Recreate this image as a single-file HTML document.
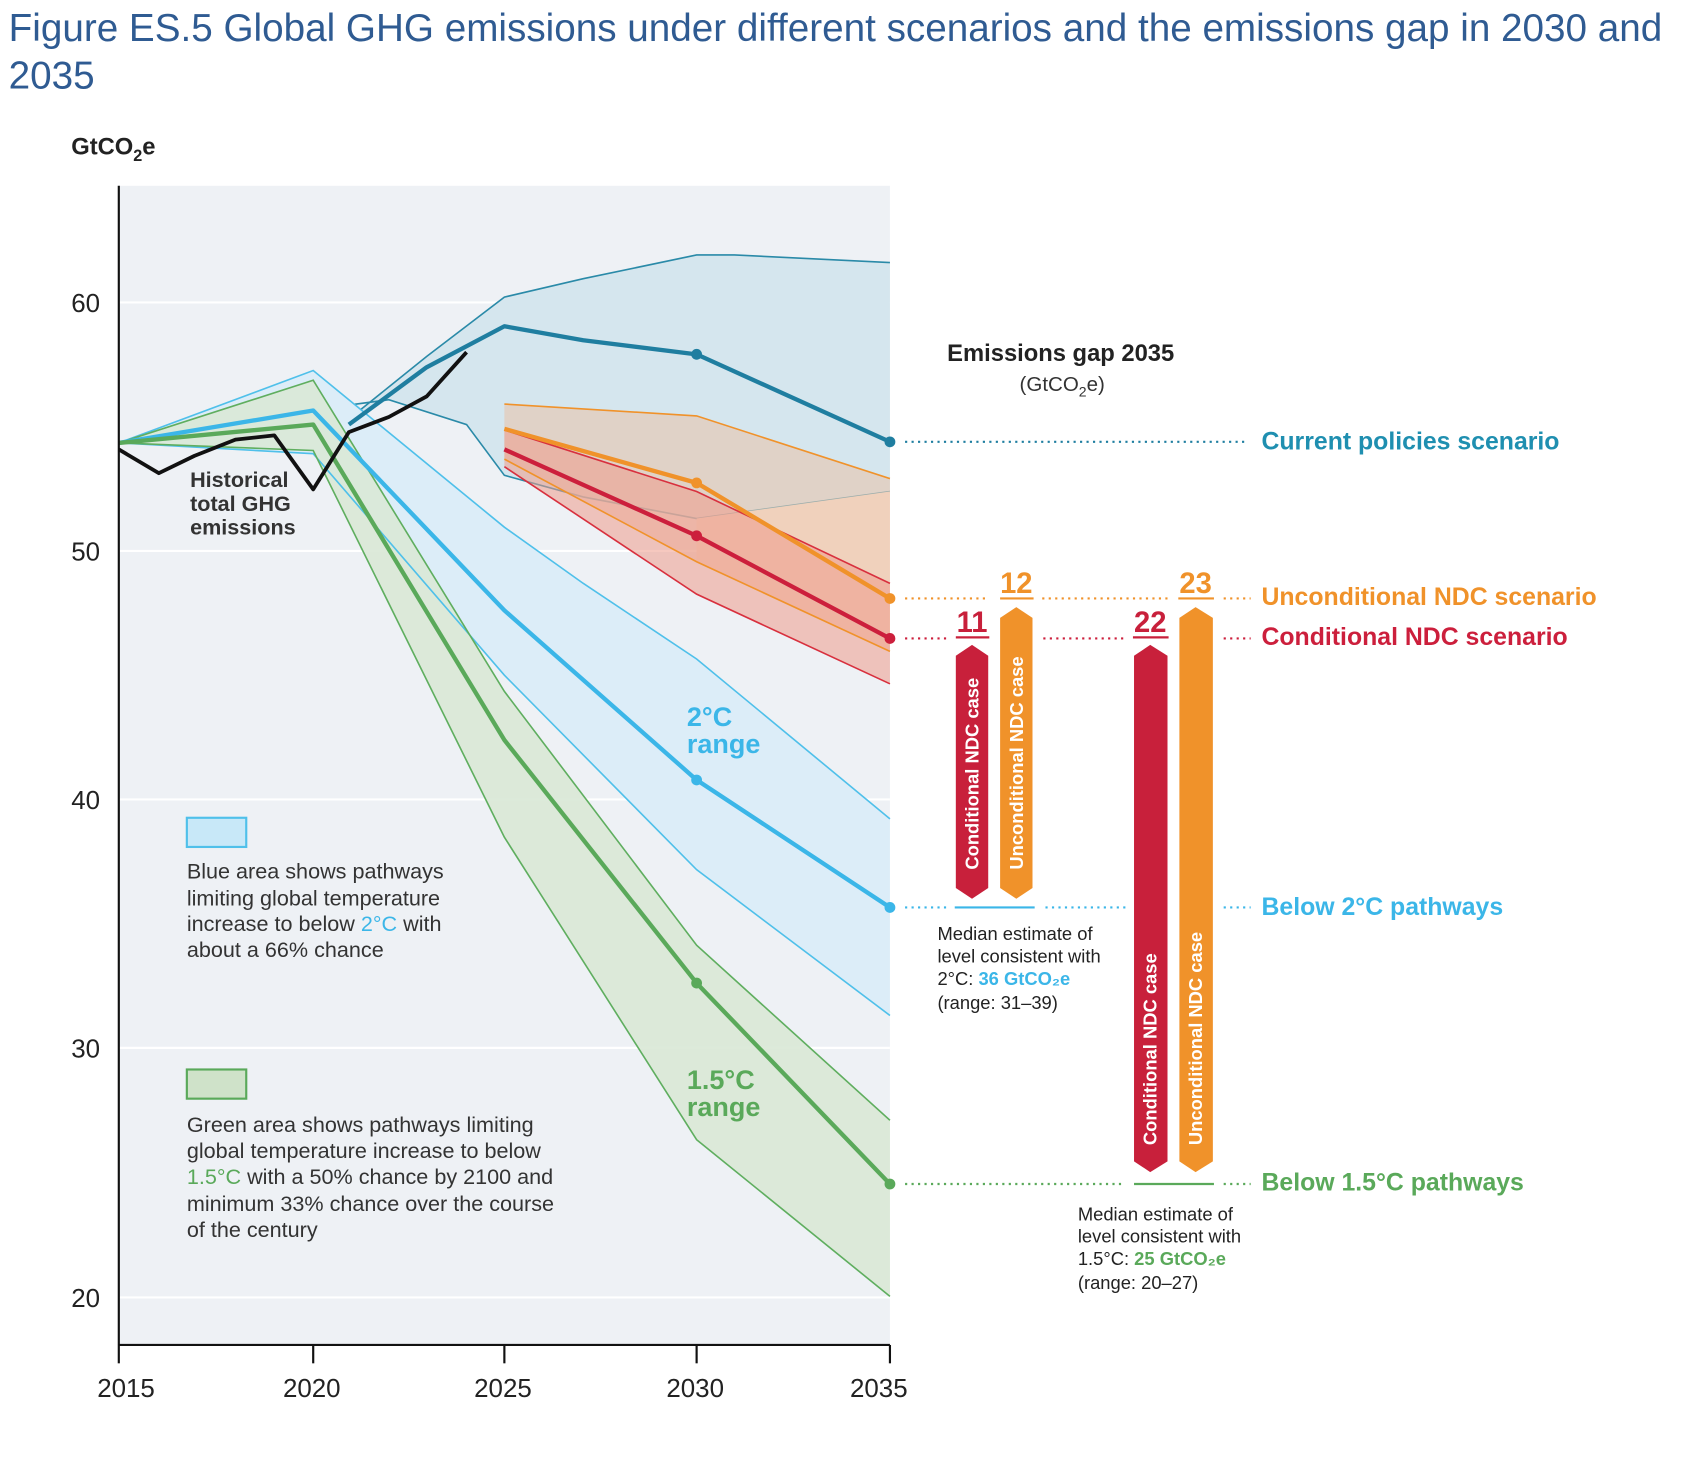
<!DOCTYPE html>
<html><head><meta charset="utf-8"><style>
html,body{margin:0;padding:0;background:#fff;}
svg{display:block;}
text{font-family:"Liberation Sans",sans-serif;}
</style></head><body>
<svg width="1687" height="1480" viewBox="0 0 1562 1370" preserveAspectRatio="none" xmlns="http://www.w3.org/2000/svg">
<text x="8" y="38" font-size="35.8" fill="#2f5b92">Figure ES.5 Global GHG emissions under different scenarios and the emissions gap in 2030 and</text>
<text x="8" y="82" font-size="35.8" fill="#2f5b92">2035</text>
<text x="66" y="143" font-size="22" font-weight="bold" fill="#222">GtCO<tspan font-size="15" dy="6">2</tspan><tspan dy="-6">e</tspan></text>
<rect x="110" y="172" width="714" height="1073" fill="#eef1f5"/>
<g stroke="#fff" stroke-width="2">
<line x1="110" y1="280" x2="824" y2="280"/><line x1="110" y1="510" x2="824" y2="510"/>
<line x1="110" y1="740" x2="824" y2="740"/><line x1="110" y1="970" x2="824" y2="970"/>
<line x1="110" y1="1201" x2="824" y2="1201"/></g>
<path d="M323,388 L395,330 L467,275 L540,258 L645,236 L680,236 L824,243 L824,455 L645,480 L540,460 L467,440 L432,393 L360,370 Z" fill="#d5e6ee" stroke="none"/>
<path d="M323,388 L395,330 L467,275 L540,258 L645,236 L680,236 L824,243" fill="none" stroke="#2a8aa8" stroke-width="1.5"/>
<path d="M323,375 L360,370 L432,393 L467,440 L540,460 L645,480 L824,455" fill="none" stroke="#2a8aa8" stroke-width="1.5"/>
<path d="M645,480 L824,455 L824,603 L645,520 Z" fill="#fde3d2"/>
<path d="M110,410 L290,343 L467,488 L540,540 L645,610 L824,758 L824,940 L645,805 L467,625 L290,420 Z" fill="#dcedf8"/>
<path d="M110,410 L290,352 L467,640 L645,875 L824,1037 L824,1200 L645,1055 L467,775 L290,417 Z" fill="#d9e8d6" opacity="0.9"/>
<g fill="none" stroke-width="1.5">
<path d="M110,410 L290,343 L467,488 L540,540 L645,610 L824,758" stroke="#4fc0ea"/>
<path d="M110,410 L290,420 L467,625 L645,805 L824,940" stroke="#4fc0ea"/>
<path d="M110,410 L290,352 L467,640 L645,875 L824,1037" stroke="#5fae5f"/>
<path d="M110,410 L290,417 L467,775 L645,1055 L824,1200" stroke="#5fae5f"/>
</g>
<path d="M467,374 L645,385 L824,443 L824,603 L645,520 L467,425 Z" fill="#e8c4ad" opacity="0.6"/>
<path d="M467,398 L645,455 L824,540 L824,633 L645,550 L467,432 Z" fill="#ef9a8a" opacity="0.55"/>
<g fill="none" stroke-width="1.5">
<path d="M467,374 L645,385 L824,443" stroke="#f0922a"/>
<path d="M467,425 L645,520 L824,603" stroke="#f0922a"/>
<path d="M467,398 L645,455 L824,540" stroke="#d8303e"/>
<path d="M467,432 L645,550 L824,633" stroke="#d8303e"/>
</g>
<g fill="none" stroke-width="4" stroke-linejoin="round">
<path d="M110,410 L290,380 L467,565 L645,722 L824,840" stroke="#3bb6e8"/>
<path d="M110,410 L290,393 L467,685 L645,910 L824,1096" stroke="#5aa95a"/>
<path d="M323,393 L395,340 L467,302 L540,315 L645,328 L824,409" stroke="#1f7ea0"/>
<path d="M467,397 L645,447 L824,554" stroke="#f0922a"/>
<path d="M467,416 L645,496 L824,591" stroke="#cc1f3c"/>
<path d="M110,416 L147,438 L180,422 L218,407 L254,403 L290,453 L323,400 L360,386 L395,367 L432,326" stroke="#111" stroke-width="3.5"/>
</g>
<g>
<circle cx="645" cy="328" r="5" fill="#1f7ea0"/><circle cx="824" cy="409" r="5" fill="#1f7ea0"/>
<circle cx="645" cy="447" r="5" fill="#f0922a"/><circle cx="824" cy="554" r="5" fill="#f0922a"/>
<circle cx="645" cy="496" r="5" fill="#cc1f3c"/><circle cx="824" cy="591" r="5" fill="#cc1f3c"/>
<circle cx="645" cy="722" r="5" fill="#3bb6e8"/><circle cx="824" cy="840" r="5" fill="#3bb6e8"/>
<circle cx="645" cy="910" r="5" fill="#5aa95a"/><circle cx="824" cy="1096" r="5" fill="#5aa95a"/>
</g>
<line x1="110" y1="172" x2="110" y2="1245" stroke="#111" stroke-width="2"/>
<line x1="110" y1="1245" x2="824" y2="1245" stroke="#111" stroke-width="2"/>
<g stroke="#111" stroke-width="2"><line x1="110" y1="1245" x2="110" y2="1262"/><line x1="290" y1="1245" x2="290" y2="1262"/><line x1="467" y1="1245" x2="467" y2="1262"/><line x1="645" y1="1245" x2="645" y2="1262"/><line x1="824" y1="1245" x2="824" y2="1262"/></g>
<g font-size="24" fill="#222">
<text x="66" y="289">60</text><text x="66" y="519">50</text><text x="66" y="749">40</text><text x="66" y="979">30</text><text x="66" y="1210">20</text>
<text x="90" y="1293">2015</text><text x="262" y="1293">2020</text><text x="439" y="1293">2025</text><text x="617" y="1293">2030</text><text x="787" y="1293">2035</text>
</g>
<g font-size="20" font-weight="bold" fill="#333"><text x="176" y="451">Historical</text><text x="176" y="473">total GHG</text><text x="176" y="495">emissions</text></g>
<g font-size="25" font-weight="bold" fill="#3bb6e8"><text x="636" y="672">2°C</text><text x="636" y="697">range</text></g>
<g font-size="25" font-weight="bold" fill="#5aa95a"><text x="636" y="1008">1.5°C</text><text x="636" y="1033">range</text></g>
<rect x="173" y="757" width="55" height="27" fill="#c8e8f8" stroke="#4fc0ea" stroke-width="2"/>
<g font-size="20" fill="#333">
<text x="173" y="813">Blue area shows pathways</text><text x="173" y="838">limiting global temperature</text>
<text x="173" y="862">increase to below <tspan fill="#3bb6e8">2°C</tspan> with</text><text x="173" y="886">about a 66% chance</text>
</g>
<rect x="173" y="990" width="55" height="27" fill="#cfe2c9" stroke="#5aa95a" stroke-width="2"/>
<g font-size="20" fill="#333">
<text x="173" y="1048">Green area shows pathways limiting</text><text x="173" y="1072">global temperature increase to below</text>
<text x="173" y="1096"><tspan fill="#5aa95a">1.5°C</tspan> with a 50% chance by 2100 and</text><text x="173" y="1121">minimum 33% chance over the course</text><text x="173" y="1145">of the century</text>
</g>
<text x="877" y="334" font-size="22" font-weight="bold" fill="#222">Emissions gap 2035</text>
<text x="944" y="362" font-size="19" fill="#333">(GtCO<tspan font-size="13" dy="5">2</tspan><tspan dy="-5">e)</tspan></text>
<g stroke-width="2" stroke-dasharray="2,4">
<line x1="838" y1="409" x2="1155" y2="409" stroke="#1f7ea0"/>
<line x1="838" y1="554" x2="916" y2="554" stroke="#f0922a"/><line x1="965" y1="554" x2="1082" y2="554" stroke="#f0922a"/><line x1="1133" y1="554" x2="1158" y2="554" stroke="#f0922a"/>
<line x1="838" y1="591" x2="878" y2="591" stroke="#cc1f3c"/><line x1="966" y1="591" x2="1042" y2="591" stroke="#cc1f3c"/><line x1="1133" y1="591" x2="1158" y2="591" stroke="#cc1f3c"/>
<line x1="838" y1="840" x2="878" y2="840" stroke="#3bb6e8"/><line x1="968" y1="840" x2="1042" y2="840" stroke="#3bb6e8"/><line x1="1133" y1="840" x2="1158" y2="840" stroke="#3bb6e8"/>
<line x1="838" y1="1096" x2="1042" y2="1096" stroke="#5aa95a"/><line x1="1133" y1="1096" x2="1158" y2="1096" stroke="#5aa95a"/>
</g>
<line x1="884" y1="840" x2="958" y2="840" stroke="#3bb6e8" stroke-width="2"/>
<line x1="1050" y1="1096" x2="1124" y2="1096" stroke="#5aa95a" stroke-width="2"/>
<g font-size="23" font-weight="bold">
<text x="1168" y="416" fill="#1f8fb0">Current policies scenario</text>
<text x="1168" y="560" fill="#f0922a">Unconditional NDC scenario</text>
<text x="1168" y="597" fill="#cc1f3c">Conditional NDC scenario</text>
<text x="1168" y="847" fill="#3bb6e8">Below 2°C pathways</text>
<text x="1168" y="1102" fill="#5aa95a">Below 1.5°C pathways</text>
</g>
<path d="M885,607 L900,597 L915,607 L915,822 L900,832 L885,822 Z" fill="#c8203b"/>
<path d="M926,572 L941,562 L956,572 L956,822 L941,832 L926,822 Z" fill="#f0922a"/>
<path d="M1050,607 L1065,597 L1081,607 L1081,1075 L1065,1085 L1050,1075 Z" fill="#c8203b"/>
<path d="M1092,572 L1107,562 L1123,572 L1123,1075 L1107,1085 L1092,1075 Z" fill="#f0922a"/>
<g font-size="27" font-weight="bold" text-anchor="middle">
<text x="900" y="585" fill="#c8203b">11</text><text x="941" y="549" fill="#f0922a">12</text>
<text x="1065" y="585" fill="#c8203b">22</text><text x="1107" y="549" fill="#f0922a">23</text>
</g>
<g stroke-width="2"><line x1="885" y1="590" x2="916" y2="590" stroke="#c8203b"/><line x1="926" y1="554" x2="957" y2="554" stroke="#f0922a"/><line x1="1049" y1="590" x2="1082" y2="590" stroke="#c8203b"/><line x1="1091" y1="554" x2="1124" y2="554" stroke="#f0922a"/></g>
<g font-size="17" font-weight="bold" fill="#fff">
<text transform="translate(906,805) rotate(-90)">Conditional NDC case</text>
<text transform="translate(947,805) rotate(-90)">Unconditional NDC case</text>
<text transform="translate(1071,1060) rotate(-90)">Conditional NDC case</text>
<text transform="translate(1113,1060) rotate(-90)">Unconditional NDC case</text>
</g>
<g font-size="17" fill="#222">
<text x="868" y="870">Median estimate of</text><text x="868" y="891">level consistent with</text>
<text x="868" y="912">2°C: <tspan fill="#3bb6e8" font-weight="bold">36 GtCO₂e</tspan></text><text x="868" y="934">(range: 31–39)</text>
<text x="998" y="1130">Median estimate of</text><text x="998" y="1150">level consistent with</text>
<text x="998" y="1171">1.5°C: <tspan fill="#5aa95a" font-weight="bold">25 GtCO₂e</tspan></text><text x="998" y="1193">(range: 20–27)</text>
</g>
</svg>
</body></html>
